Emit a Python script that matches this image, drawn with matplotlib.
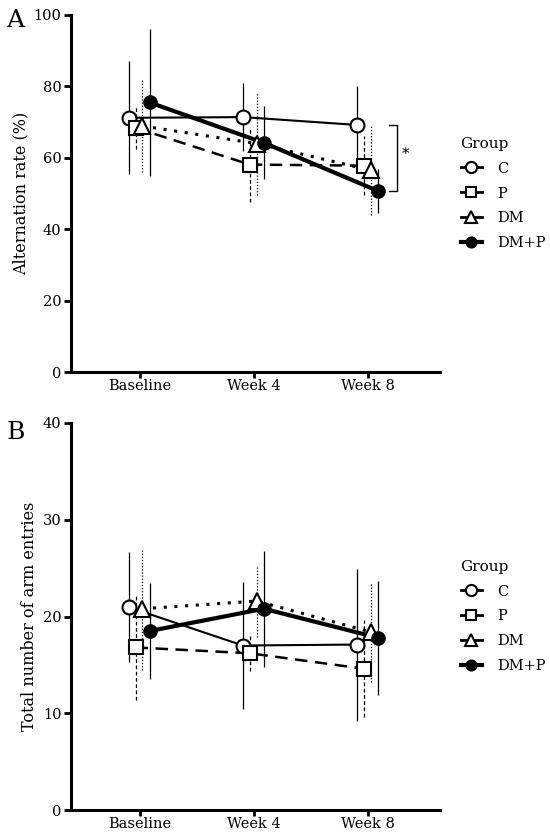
import numpy as np
import matplotlib.pyplot as plt

plt.rcParams['font.family'] = ['DejaVu Serif']

timepoints = ['Baseline', 'Week 4', 'Week 8']
groups = ['C', 'P', 'DM', 'DM+P']

# alternation rate (%) mean / sd
alt_mean = {'C': [71.2, 71.4, 69.2],
            'P': [68.4, 58.1, 57.8],
            'DM': [68.9, 64.0, 56.5],
            'DM+P': [75.5, 64.2, 50.7]}
alt_sd = {'C': [15.8, 9.5, 11.0],
          'P': [6.0, 10.6, 8.3],
          'DM': [12.9, 14.4, 12.5],
          'DM+P': [20.5, 10.2, 6.3]}

# total number of arm entries mean / sd
arm_mean = {'C': [20.97, 17.0, 17.1],
            'P': [16.8, 16.2, 14.6],
            'DM': [20.8, 21.6, 18.4],
            'DM+P': [18.5, 20.8, 17.8]}
arm_sd = {'C': [5.7, 6.6, 7.85],
          'P': [5.4, 1.8, 5.0],
          'DM': [6.3, 3.7, 5.2],
          'DM+P': [4.95, 6.0, 5.9]}

offsets = {'C': -0.095, 'P': -0.035, 'DM': 0.025, 'DM+P': 0.088}
styles = {
    'C': dict(ls='-', lw=1.5, marker='o', mfc='white', ms=10, errls='-'),
    'P': dict(ls=(0, (5, 3)), lw=1.8, marker='s', mfc='white', ms=9.5, errls=(0, (3, 2))),
    'DM': dict(ls=(0, (1, 2.5)), lw=2.2, marker='^', mfc='white', ms=11, errls=(0, (1, 1.5))),
    'DM+P': dict(ls='-', lw=3.0, marker='o', mfc='black', ms=9, errls='-'),
}


def draw_panel(ax, means, sds, ylim, yticks, ylabel):
    x = np.arange(len(timepoints))
    for g in groups:
        st = styles[g]
        xs = x + offsets[g]
        m = np.array(means[g])
        s = np.array(sds[g])
        ax.vlines(xs, m - s, m + s, colors='black', linewidth=0.9,
                  linestyles=[st['errls']], zorder=2)
        ax.plot(xs, m, color='black', ls=st['ls'], lw=st['lw'], zorder=3)
        ax.plot(xs, m, ls='none', marker=st['marker'], ms=st['ms'],
                mfc=st['mfc'], mec='black', mew=1.5, zorder=4)
        # legend handle
        ax.plot([], [], color='black', ls='-', lw=st['lw'] if g == 'DM+P' else 2,
                marker=st['marker'], ms=st['ms'] * 0.8, mfc=st['mfc'],
                mec='black', mew=1.5, label=g)
    ax.set_xlim(-0.6, 2.63)
    ax.set_ylim(*ylim)
    ax.set_yticks(yticks)
    ax.set_xticks(x)
    ax.set_xticklabels(timepoints, fontsize=10.5)
    ax.tick_params(axis='y', labelsize=10.5, pad=2, length=5)
    ax.tick_params(axis='x', pad=1, length=4)
    ax.tick_params(width=2, direction='out')
    ax.set_ylabel(ylabel, fontsize=11.5, labelpad=3)
    for sp in ['top', 'right']:
        ax.spines[sp].set_visible(False)
    for sp in ['left', 'bottom']:
        ax.spines[sp].set_linewidth(2.2)
    leg = ax.legend(title='Group', loc='center left', bbox_to_anchor=(1.02, 0.5),
                    frameon=False, fontsize=10.5, title_fontsize=11,
                    handlelength=1.5, handletextpad=1.0, labelspacing=0.75)
    leg._legend_box.align = 'left'


fig = plt.figure(figsize=(5.5, 8.34), dpi=100)
axA = fig.add_axes([71 / 550, 1 - 372 / 834, 369 / 550, 357 / 834])
axB = fig.add_axes([71 / 550, 1 - 810 / 834, 369 / 550, 387 / 834])

draw_panel(axA, alt_mean, alt_sd, (0, 100), [0, 20, 40, 60, 80, 100],
           'Alternation rate (%)')
draw_panel(axB, arm_mean, arm_sd, (0, 40), [0, 10, 20, 30, 40],
           'Total number of arm entries')

# significance bracket between C and DM+P at week 8
top = alt_mean['C'][2]
bot = alt_mean['DM+P'][2]
bx = 2 + 0.25
axA.plot([bx - 0.07, bx, bx, bx - 0.07], [top, top, bot, bot], color='black', lw=1)
axA.text(bx + 0.08, (top + bot) / 2 + 1, '*', fontsize=11, ha='center', va='center')

fig.text(0.012, 0.975, 'A', fontsize=18, va='center')
fig.text(0.012, 0.482, 'B', fontsize=18, va='center')

fig.savefig('out.png', dpi=100)
